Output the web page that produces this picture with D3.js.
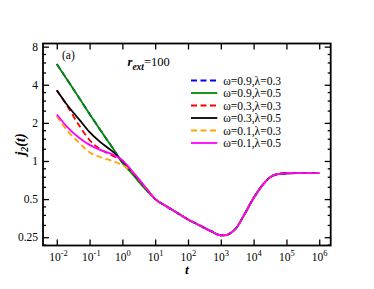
<!DOCTYPE html>
<html>
<head>
<meta charset="utf-8">
<script src="https://cdn.jsdelivr.net/npm/d3@7"></script>
<style>
  body { margin: 0; background: #fff; }
  svg { display: block; font-family: "Liberation Serif", "DejaVu Serif", serif; }
</style>
</head>
<body>
<div id="chart"></div>
<script>
// times where the early branches differ
const tEarly = [0.01, 0.02, 0.05, 0.1, 0.2, 0.5, 1, 2, 5];
// common long-time branch (all curves coincide here)
const tTail = [10, 20, 50, 100, 200, 500, 1000, 1500, 2000, 3000, 5000, 1e4, 2e4, 3e4, 5e4, 1e5, 2e5, 5e5, 1e6];
const jTail = [0.5, 0.445, 0.385, 0.345, 0.315, 0.279, 0.259, 0.26, 0.27, 0.297, 0.37, 0.51, 0.66, 0.735, 0.785, 0.8, 0.803, 0.803, 0.803];

const jBlue = [5.84, 4.45, 3.1, 2.35, 1.8, 1.27, 0.97, 0.8, 0.61];
const jGreen = [5.84, 4.45, 3.1, 2.35, 1.8, 1.27, 0.97, 0.79, 0.6];
const jRed = [3.62, 2.76, 1.88, 1.46, 1.25, 1.1, 1.0, 0.82, 0.62];
const jBlack = [3.62, 2.81, 2.1, 1.69, 1.43, 1.19, 1.0, 0.82, 0.62];
const jOrange = [2.27, 1.76, 1.38, 1.17, 1.08, 1.0, 0.93, 0.82, 0.62];
const jMagenta = [2.33, 1.88, 1.51, 1.34, 1.23, 1.13, 1.01, 0.83, 0.62];

const labels = ["ω=0.9,λ=0.3", "ω=0.9,λ=0.5", "ω=0.3,λ=0.3", "ω=0.3,λ=0.5", "ω=0.1,λ=0.3", "ω=0.1,λ=0.5"];
const colors = ["#0000ff", "#008b00", "#ff0000", "#000000", "#ffa500", "#ff00ff"];
const dashed = [true, false, true, false, true, false];
const earlyValues = [jBlue, jGreen, jRed, jBlack, jOrange, jMagenta];

const xTicks = [-2, -1, 0, 1, 2, 3, 4, 5, 6];
const yTicks = [0.25, 0.5, 1, 2, 4, 8];

const W = 374, H = 289;
const plot = { left: 43, right: 330.7, top: 43.5, bottom: 245.5 };

const svg = d3.select("#chart").append("svg").attr("width", W).attr("height", H);

const x = d3.scaleLog().domain([Math.pow(10, -2.42), Math.pow(10, 6.35)]).range([plot.left, plot.right]);
const y = d3.scaleLog().base(2).domain([0.215, 8.47]).range([plot.bottom, plot.top]);

// minor y ticks: linear quarters between major ticks
const yMinor = [];
yTicks.forEach((v) => {
  [1.25, 1.5, 1.75].forEach((f) => {
    if (v * f < 8.47) yMinor.push(v * f);
  });
});
yMinor.push(0.25 * 0.875);

const decades = xTicks.map((e) => Math.pow(10, e));

function styleAxis(g) {
  g.select(".domain").remove();
  g.selectAll("line").attr("stroke", "#000").attr("stroke-width", 1.3);
  g.selectAll("text").remove();
}

// ticks (inward), bottom / top / left / right
svg.append("g").attr("transform", `translate(0,${plot.bottom})`)
  .call(d3.axisBottom(x).tickValues(decades).tickSize(-6)).call(styleAxis);
svg.append("g").attr("transform", `translate(0,${plot.top})`)
  .call(d3.axisTop(x).tickValues(decades).tickSize(-6)).call(styleAxis);
svg.append("g").attr("transform", `translate(${plot.left},0)`)
  .call(d3.axisLeft(y).tickValues(yTicks).tickSize(-6)).call(styleAxis);
svg.append("g").attr("transform", `translate(${plot.left},0)`)
  .call(d3.axisLeft(y).tickValues(yMinor).tickSize(-3)).call(styleAxis);
svg.append("g").attr("transform", `translate(${plot.right},0)`)
  .call(d3.axisRight(y).tickValues(yTicks).tickSize(-6)).call(styleAxis);
svg.append("g").attr("transform", `translate(${plot.right},0)`)
  .call(d3.axisRight(y).tickValues(yMinor).tickSize(-3)).call(styleAxis);

// frame
svg.append("rect")
  .attr("x", plot.left).attr("y", plot.top)
  .attr("width", plot.right - plot.left).attr("height", plot.bottom - plot.top)
  .attr("fill", "none").attr("stroke", "#000").attr("stroke-width", 1.8);

// x tick labels 10^n
xTicks.forEach((e) => {
  const t = svg.append("text")
    .attr("x", x(Math.pow(10, e)) - 7.5)
    .attr("y", 261)
    .attr("font-size", 11.5)
    .attr("fill", "#000");
  t.append("tspan").text("10");
  t.append("tspan").attr("dy", -5.5).attr("font-size", 8.5).text(e);
});

// y tick labels
yTicks.forEach((v) => {
  svg.append("text")
    .attr("x", 38)
    .attr("y", y(v) + 4)
    .attr("text-anchor", "end")
    .attr("font-size", 11.5)
    .attr("fill", "#000")
    .text(v);
});

// axis titles
svg.append("text")
  .attr("x", 187).attr("y", 274)
  .attr("text-anchor", "middle")
  .attr("font-size", 13.5).attr("font-weight", "bold").attr("font-style", "italic")
  .text("t");

const yt = svg.append("text")
  .attr("transform", `translate(25,${(plot.top + plot.bottom) / 2}) rotate(-90)`)
  .attr("text-anchor", "middle")
  .attr("font-size", 14).attr("font-weight", "bold").attr("font-style", "italic");
yt.append("tspan").text("j");
yt.append("tspan").attr("dy", 3).attr("font-size", 10).text("2");
yt.append("tspan").attr("dy", -3).text("(t)");

// lines
const line = d3.line()
  .x((d) => x(d[0]))
  .y((d) => y(d[1]))
  .curve(d3.curveMonotoneX);

earlyValues.forEach((vals, i) => {
  const pts = tEarly.map((t, k) => [t, vals[k]]).concat(tTail.map((t, k) => [t, jTail[k]]));
  svg.append("path")
    .attr("d", line(pts))
    .attr("fill", "none")
    .attr("stroke", colors[i])
    .attr("stroke-width", 1.8)
    .attr("stroke-dasharray", dashed[i] ? "6,3.5" : null);
});

// annotations
svg.append("text")
  .attr("x", 62).attr("y", 59)
  .attr("font-size", 11.5)
  .text("(a)");

const rt = svg.append("text").attr("x", 127.5).attr("y", 66).attr("font-size", 12.5);
rt.append("tspan").attr("font-weight", "bold").attr("font-style", "italic").text("r");
rt.append("tspan").attr("dy", 3.5).attr("font-size", 9.5).attr("font-weight", "bold").attr("font-style", "italic").text("ext");
rt.append("tspan").attr("dy", -3.5).text("=100");

// legend
labels.forEach((lab, i) => {
  const cy = 80.5 + i * 12.5;
  svg.append("line")
    .attr("x1", 191).attr("x2", 217.3)
    .attr("y1", cy).attr("y2", cy)
    .attr("stroke", colors[i])
    .attr("stroke-width", 1.8)
    .attr("stroke-dasharray", dashed[i] ? "6,3.5" : null);
  svg.append("text")
    .attr("x", 223.3).attr("y", cy + 4)
    .attr("font-size", 11.5)
    .text(lab);
});
</script>
</body>
</html>
